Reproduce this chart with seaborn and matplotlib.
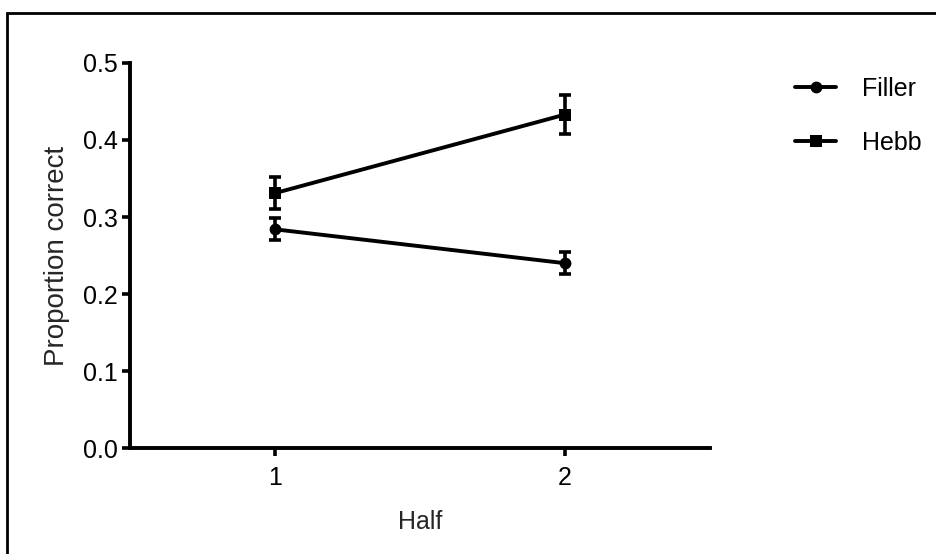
import pandas as pd
import seaborn as sns
import matplotlib.pyplot as plt
from matplotlib.patches import Rectangle

# means and standard errors
halves = [1, 2]
filler_mean = [0.284, 0.240]
filler_err = [0.0145, 0.014]
hebb_mean = [0.331, 0.433]
hebb_err = [0.021, 0.025]
conditions = ['Filler', 'Hebb']
markers = {'Filler': 'o', 'Hebb': 's'}

df = pd.DataFrame({
    'Half': halves * 2,
    'Proportion correct': filler_mean + hebb_mean,
    'err': filler_err + hebb_err,
    'cond': ['Filler'] * 2 + ['Hebb'] * 2,
})

sns.set_style('ticks')
plt.rcParams['font.family'] = ['Liberation Sans', 'DejaVu Sans']
fs = 18

fig = plt.figure(figsize=(9.36, 5.54), dpi=100)
ax = fig.add_axes([0.1389, 0.1913, 0.6196, 0.695])

# outer frame (only top/left edges fall inside the picture)
fig.patches.append(Rectangle((7 / 936, -0.05), 1.05, 1.05 - 13 / 554,
                             transform=fig.transFigure, fill=False,
                             edgecolor='black', linewidth=2, zorder=0))

sns.lineplot(data=df, x='Half', y='Proportion correct', hue='cond', style='cond',
             markers=markers, dashes=False, palette=['black', 'black'],
             errorbar=None, linewidth=2.8, markersize=8.5, markeredgewidth=0,
             ax=ax, legend=False)

for c in conditions:
    sub = df[df['cond'] == c]
    ax.errorbar(sub['Half'], sub['Proportion correct'], yerr=sub['err'], fmt='none',
                ecolor='black', elinewidth=2.6, capsize=4.5, capthick=2.6)

ax.set_xlim(0.5, 2.5)
ax.set_ylim(0, 0.5)
ax.set_xticks(halves)
ax.set_yticks([0.0, 0.1, 0.2, 0.3, 0.4, 0.5])
ax.set_yticklabels(['0.0', '0.1', '0.2', '0.3', '0.4', '0.5'])
ax.set_xlabel('Half', fontsize=fs, labelpad=14)
ax.set_ylabel('Proportion correct', fontsize=20, labelpad=9)
ax.tick_params(labelsize=fs, width=2.6, length=5.5, direction='out', color='black',
               labelcolor='black')
ax.tick_params(axis='x', pad=7.5)
sns.despine(ax=ax)
for s in ['left', 'bottom']:
    ax.spines[s].set_linewidth(2.8)
    ax.spines[s].set_color('black')

handles = [plt.Line2D([], [], color='black', lw=2.8, marker=markers[c], markersize=8.5,
                      markeredgewidth=0) for c in conditions]
fig.legend(handles, conditions, loc='upper left', bbox_to_anchor=(795 / 936, 1 - 77 / 554),
           frameon=False, fontsize=fs, handlelength=1.64, handletextpad=1.04,
           labelspacing=1.2, borderpad=0, borderaxespad=0, labelcolor='black')

fig.savefig('out.png', dpi=100)
